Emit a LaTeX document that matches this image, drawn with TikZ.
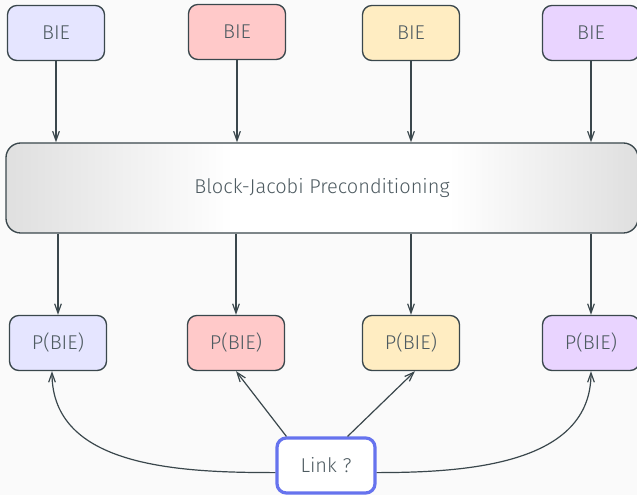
\documentclass[tikz,border=0pt]{standalone}
\usepackage{fontspec}
\setmainfont{Fira Sans}[UprightFont=* Light]
\usetikzlibrary{arrows.meta}

\definecolor{bgcol}{HTML}{FAFAFA}
\definecolor{edgecol}{HTML}{3A474C}
\definecolor{txtcol}{HTML}{4E5B61}
\definecolor{linkblue}{HTML}{6673EE}
\definecolor{fillA}{HTML}{E5E5FF}
\definecolor{fillB}{HTML}{FFC9C9}
\definecolor{fillC}{HTML}{FFEDC2}
\definecolor{fillD}{HTML}{E9D4FF}

% grey at both ends, white band in the middle (node spans 25bp..75bp)
\pgfdeclarehorizontalshading{prebar}{100bp}{color(0bp)=(gray!25); color(25bp)=(gray!25);
  color(43bp)=(white); color(60bp)=(white); color(75bp)=(gray!25); color(100bp)=(gray!25)}

\tikzset{
  blk/.style={draw=edgecol, line width=1pt, rounded corners=7pt, text=txtcol,
    minimum width=72.75pt, minimum height=41.25pt, font=\fontsize{15}{17}\selectfont},
  flow/.style={draw=edgecol, line width=0.9pt, -{Straight Barb[length=7pt,width=5pt]}}
}

\begin{document}
\begin{tikzpicture}[x=0.75pt, y=0.75pt]

  \fill[bgcol] (0,0) rectangle (637,-495);
  \useasboundingbox (0,0) rectangle (637,-495);

  % input blocks
  \node[blk, fill=fillA] (b1) at (56,-33) {BIE};
  \node[blk, fill=fillB] (b2) at (237,-32) {BIE};
  \node[blk, fill=fillC] (b3) at (411,-33) {BIE};
  \node[blk, fill=fillD] (b4) at (591,-33) {BIE};

  % preconditioner
  \node[blk, rounded corners=11pt, minimum width=474pt, minimum height=67.5pt,
        shading=prebar] (pre) at (322,-188)
        {Block-Jacobi Preconditioning};

  % preconditioned blocks
  \node[blk, fill=fillA] (p1) at (58,-343) {P(BIE)};
  \node[blk, fill=fillB] (p2) at (236,-343) {P(BIE)};
  \node[blk, fill=fillC] (p3) at (411,-343) {P(BIE)};
  \node[blk, fill=fillD] (p4) at (591,-343) {P(BIE)};

  \node[blk, draw=linkblue, line width=2.4pt, fill=white, minimum width=73.5pt] (link) at (326,-465.5) {Link ?};

  \foreach \i in {1,...,4} {
    \draw[flow] (b\i) -- (b\i |- pre.north);
    \draw[flow] (p\i |- pre.south) -- (p\i);
  }

  \draw[flow] (link.188) to[out=180, in=-90] ([xshift=-4.5]p1.south);
  \draw[flow] (link.north west) ++(11,0) -- (p2.south);
  \draw[flow] (link.north east) ++(-29,0) -- ([xshift=3]p3.south);
  \draw[flow] (link.-8) to[out=0, in=-90] (p4.south);

\end{tikzpicture}
\end{document}
